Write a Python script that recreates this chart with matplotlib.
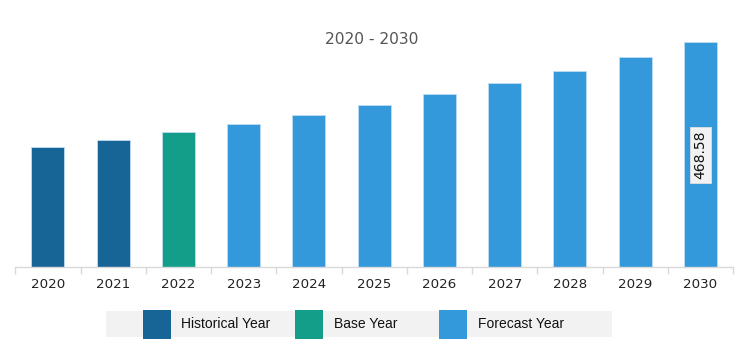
import matplotlib.pyplot as plt
from matplotlib.patches import Rectangle

# chart data
years = ['2020', '2021', '2022', '2023', '2024', '2025', '2026', '2027', '2028', '2029', '2030']
values = [249.9, 265.1, 281.1, 298.4, 317.8, 338.0, 360.3, 383.8, 409.4, 438.0, 468.58]
kinds = ['hist', 'hist', 'base', 'fc', 'fc', 'fc', 'fc', 'fc', 'fc', 'fc', 'fc']
legend_labels = ['Historical Year', 'Base Year', 'Forecast Year']
title = '2020 - 2030'
label_value = 468.58

COLORS = {'hist': '#176496', 'base': '#139E8A', 'fc': '#3399DB'}

plt.rcParams['font.family'] = ['Liberation Sans', 'DejaVu Sans']

W, H = 753, 352
fig = plt.figure(figsize=(W / 100, H / 100), dpi=100)
fig.patch.set_facecolor('white')

# axes placement in pixels
left, right = 15.3, 733.0
bottom = 267.3
top = 27.2
ax = fig.add_axes([left / W, (H - bottom) / H, (right - left) / W, (bottom - top) / H])

x = list(range(len(years)))
bar_colors = [COLORS[k] for k in kinds]
ax.bar(x, values, width=0.505, color=bar_colors, edgecolor='#BFDDF2', linewidth=0.6)

ax.set_xlim(-0.5, len(years) - 0.5)
ax.set_ylim(0, 500)
ax.set_yticks([])
for s in ['top', 'right', 'left']:
    ax.spines[s].set_visible(False)
ax.spines['bottom'].set_color('#D9D9D9')
ax.spines['bottom'].set_linewidth(1.0)

# ticks at category boundaries, labels at centers
ax.set_xticks([i - 0.5 for i in range(len(years) + 1)])
ax.set_xticklabels([])
ax.tick_params(axis='x', length=5, color='#D9D9D9', width=1.0)
for i, y in enumerate(years):
    ax.text(i, -36, y, ha='center', va='center', fontsize=9.6, color='#222222',
            family='DejaVu Sans')

# value label on last bar
ax.text(len(years) - 1, label_value / 2, f'{label_value:.2f}', rotation=90,
        ha='center', va='center', fontsize=10, color='#111111', family='DejaVu Sans',
        bbox=dict(boxstyle='square,pad=0.25', facecolor='#F2F2F2', edgecolor='#E0E0E0', linewidth=0.6))

fig.text(372 / W, 1 - 39 / H, title, ha='center', va='center', fontsize=11.2,
         color='#555555', family='DejaVu Sans')

# legend band
def px_rect(x0, y0, x1, y1, color, z=1):
    fig.patches.append(Rectangle((x0 / W, 1 - y1 / H), (x1 - x0) / W, (y1 - y0) / H,
                                 transform=fig.transFigure, facecolor=color,
                                 edgecolor='none', zorder=z))

px_rect(105.7, 311, 612, 336.7, '#F2F2F2')
swatches = [(143.3, 171, 181), (295, 322.7, 334), (439.3, 467, 478)]
for (x0, x1, tx), lab, k in zip(swatches, legend_labels, ['hist', 'base', 'fc']):
    px_rect(x0, 310, x1, 339, COLORS[k], z=2)
    fig.text(tx / W, 1 - 324 / H, lab, ha='left', va='center', fontsize=10, color='#111111')

fig.savefig('out.png', dpi=100, facecolor='white')
